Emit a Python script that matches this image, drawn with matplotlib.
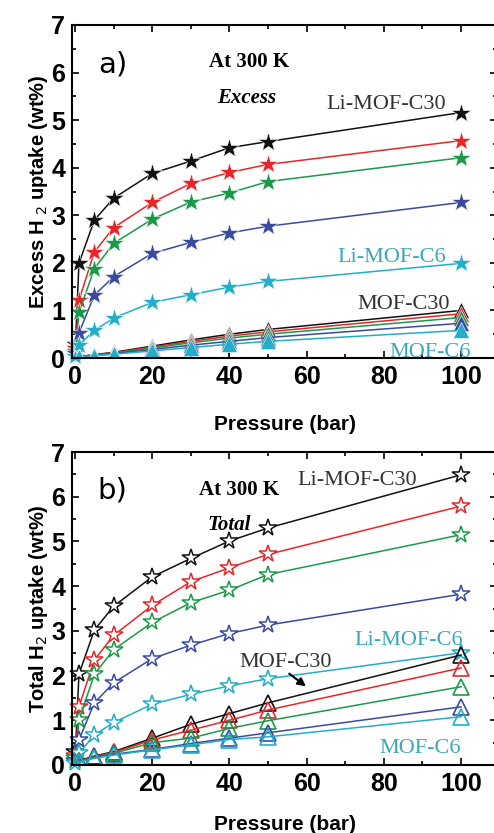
import numpy as np
import matplotlib.pyplot as plt
from matplotlib.ticker import MultipleLocator

# pressure points (bar)
pressure = [0.1, 1, 5, 10, 20, 30, 40, 50, 100]

# a) excess uptake, Li-doped (stars), top to bottom
excess_li = [
    [0.30, 1.99, 2.90, 3.36, 3.88, 4.14, 4.42, 4.55, 5.16],
    [0.20, 1.21, 2.23, 2.74, 3.27, 3.67, 3.90, 4.07, 4.57],
    [0.15, 0.96, 1.88, 2.41, 2.92, 3.28, 3.47, 3.71, 4.21],
    [0.10, 0.53, 1.32, 1.71, 2.20, 2.43, 2.63, 2.77, 3.27],
    [0.05, 0.28, 0.58, 0.84, 1.17, 1.33, 1.49, 1.61, 1.99],
]
# a) excess uptake, undoped (triangles)
excess_mof = [
    [0.01, 0.03, 0.07, 0.12, 0.25, 0.38, 0.50, 0.60, 1.00],
    [0.01, 0.03, 0.06, 0.11, 0.23, 0.35, 0.46, 0.55, 0.93],
    [0.01, 0.02, 0.06, 0.10, 0.21, 0.32, 0.42, 0.50, 0.85],
    [0.01, 0.02, 0.05, 0.09, 0.18, 0.27, 0.35, 0.43, 0.73],
    [0.01, 0.02, 0.05, 0.08, 0.15, 0.22, 0.29, 0.35, 0.58],
]
# b) total uptake, Li-doped (stars)
total_li = [
    [0.30, 2.03, 3.02, 3.55, 4.21, 4.62, 5.01, 5.30, 6.49],
    [0.20, 1.30, 2.35, 2.90, 3.57, 4.10, 4.41, 4.71, 5.79],
    [0.15, 1.00, 2.03, 2.58, 3.19, 3.63, 3.91, 4.26, 5.15],
    [0.10, 0.56, 1.39, 1.84, 2.38, 2.68, 2.94, 3.13, 3.82],
    [0.05, 0.26, 0.67, 0.95, 1.36, 1.58, 1.77, 1.93, 2.51],
]
# b) total uptake, undoped (triangles)
total_mof = [
    [0.05, 0.10, 0.20, 0.30, 0.60, 0.91, 1.15, 1.39, 2.46],
    [0.04, 0.09, 0.19, 0.28, 0.56, 0.78, 1.00, 1.23, 2.17],
    [0.04, 0.08, 0.18, 0.26, 0.50, 0.60, 0.82, 0.99, 1.75],
    [0.03, 0.07, 0.17, 0.24, 0.35, 0.48, 0.60, 0.72, 1.30],
    [0.03, 0.06, 0.15, 0.22, 0.34, 0.45, 0.57, 0.63, 1.08],
]

colors = ['#111111', '#e8262a', '#1a9a48', '#3a4aa0', '#22aec8']
cyan_txt = '#3aa8b8'

W, H = 494, 833
fig = plt.figure(figsize=(W / 100, H / 100), dpi=100)

def px_axes(left, top, right, bottom):
    return fig.add_axes([left / W, 1 - bottom / H, (right - left) / W, (bottom - top) / H])

ax_a = px_axes(72, 25, 497, 358)
ax_b = px_axes(72, 452, 497, 765)

serif = 'Liberation Serif'
sans = 'Liberation Sans'


def style_axes(ax, ylabel, xpad):
    ax.set_xlim(-0.8, 109.3)
    ax.set_ylim(0, 7)
    ax.xaxis.set_major_locator(MultipleLocator(20))
    ax.xaxis.set_minor_locator(MultipleLocator(10))
    ax.yaxis.set_major_locator(MultipleLocator(1))
    ax.yaxis.set_minor_locator(MultipleLocator(0.5))
    ax.tick_params(which='both', direction='in', top=True, right=True, width=1.2)
    ax.tick_params(which='major', length=5)
    ax.tick_params(which='minor', length=3)
    ax.tick_params(axis='x', pad=5)
    ax.tick_params(axis='y', pad=5)
    for lab in ax.get_xticklabels() + ax.get_yticklabels():
        lab.set_fontfamily(sans)
        lab.set_fontweight('bold')
        lab.set_fontsize(18)
    for sp in ax.spines.values():
        sp.set_linewidth(1.5)
    ax.set_xlabel('Pressure (bar)', fontfamily=sans, fontweight='bold', fontsize=15, labelpad=xpad)
    ax.set_ylabel(ylabel, fontfamily=sans, fontweight='bold', fontsize=14.5, labelpad=1)


# panel a: filled markers
for i in range(5):
    ax_a.plot(pressure, excess_li[i], '-', color=colors[i], lw=1.1,
              marker='*', ms=15, mfc=colors[i], mec='white', mew=0.4, clip_on=False)
for i in range(5):
    ax_a.plot(pressure, excess_mof[i], '-', color=colors[i], lw=1.1,
              marker='^', ms=11, mfc=colors[i], mec='white', mew=0.4)

# panel b: open markers
for i in range(5):
    ax_b.plot(pressure, total_li[i], '-', color=colors[i], lw=1.1,
              marker='*', ms=13, mfc='white', mec=colors[i], mew=1.1, clip_on=False)
for i in range(5):
    ax_b.plot(pressure, total_mof[i], '-', color=colors[i], lw=1.1,
              marker='^', ms=11, mfc='none', mec=colors[i], mew=1.2)

style_axes(ax_a, 'Excess H$_{\\ 2}$ uptake (wt%)', 19)
style_axes(ax_b, 'Total H$_2$ uptake (wt%)', 14)

# annotations panel a
ax_a.text(9.8, 6.16, 'a)', fontfamily='DejaVu Sans', fontsize=21, ha='center', va='center')
ax_a.text(45, 6.22, 'At 300 K', fontfamily=serif, fontweight='bold', fontsize=15, ha='center', va='center')
ax_a.text(44.4, 5.47, 'Excess', fontfamily=serif, fontweight='bold', style='italic', fontsize=15, ha='center', va='center')
ax_a.text(80.7, 5.32, 'Li-MOF-C30', fontfamily=serif, fontsize=16, color='#333333', ha='center', va='center')
ax_a.text(81.9, 2.12, 'Li-MOF-C6', fontfamily=serif, fontsize=16, color=cyan_txt, ha='center', va='center')
ax_a.text(85, 1.13, 'MOF-C30', fontfamily=serif, fontsize=16, color='#333333', ha='center', va='center')
ax_a.text(92, 0.12, 'MOF-C6', fontfamily=serif, fontsize=16, color=cyan_txt, ha='center', va='center', clip_on=True)

# annotations panel b
ax_b.text(9.7, 6.15, 'b)', fontfamily='DejaVu Sans', fontsize=21, ha='center', va='center')
ax_b.text(42.4, 6.14, 'At 300 K', fontfamily=serif, fontweight='bold', fontsize=15, ha='center', va='center')
ax_b.text(39.9, 5.36, 'Total', fontfamily=serif, fontweight='bold', style='italic', fontsize=15, ha='center', va='center')
ax_b.text(73, 6.37, 'Li-MOF-C30', fontfamily=serif, fontsize=16, color='#333333', ha='center', va='center')
ax_b.text(86.4, 2.79, 'Li-MOF-C6', fontfamily=serif, fontsize=16, color=cyan_txt, ha='center', va='center')
ax_b.text(54.5, 2.30, 'MOF-C30', fontfamily=serif, fontsize=16, color='#333333', ha='center', va='center')
ax_b.annotate('', xy=(60.4, 1.72), xytext=(54.9, 2.08),
              arrowprops=dict(arrowstyle='-|>', color='black', lw=1.5, mutation_scale=12))
ax_b.text(89.4, 0.38, 'MOF-C6', fontfamily=serif, fontsize=16, color=cyan_txt, ha='center', va='center')

fig.savefig('out.png', dpi=100)
